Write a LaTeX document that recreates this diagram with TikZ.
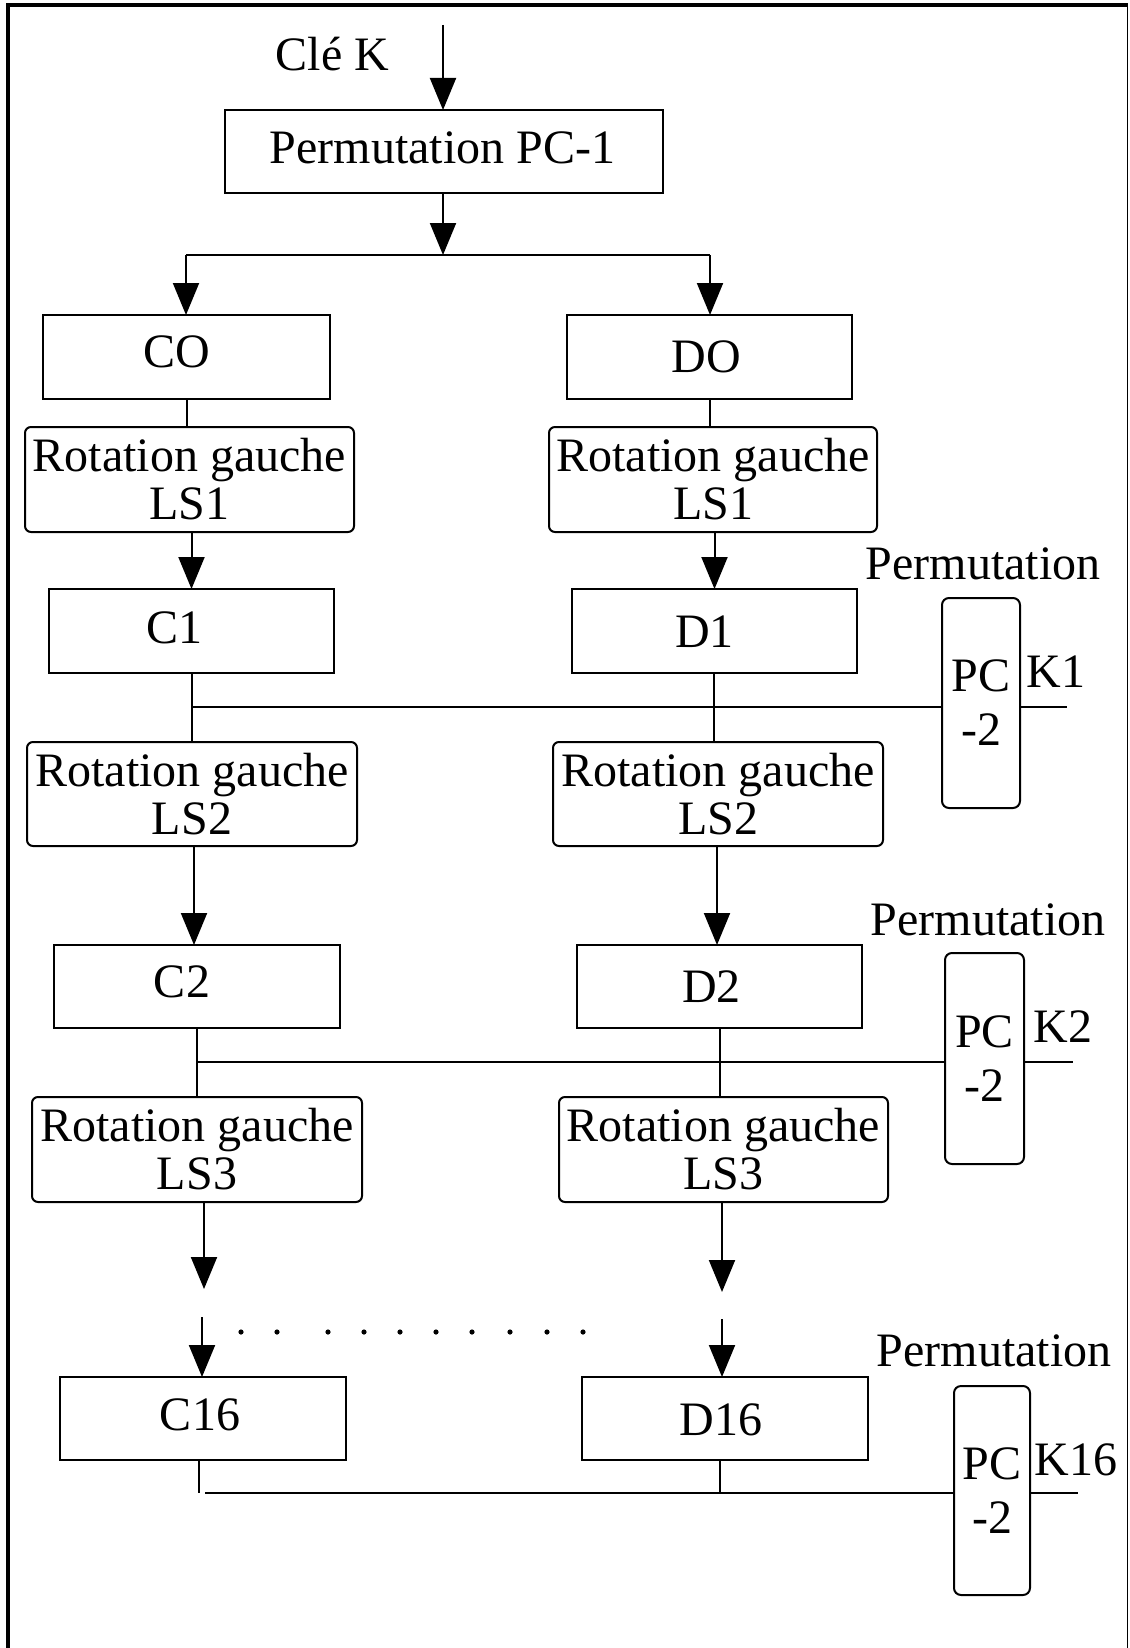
\documentclass[tikz,border=0pt]{standalone}
\usepackage{fontspec}
\setmainfont{Liberation Serif}
\usetikzlibrary{arrows.meta}
\begin{document}
\begin{tikzpicture}[x=1pt,y=-1pt,
  every node/.style={font=\fontsize{48}{48}\selectfont, inner sep=0pt, outer sep=0pt},
  sqbox/.style={draw, line width=2pt},
  rbox/.style={draw, line width=2pt, rounded corners=6pt, align=center},
  kbox/.style={draw, line width=2pt, rounded corners=7pt, align=center, font=\fontsize{48}{54}\selectfont, minimum width=78pt, minimum height=210pt},
  conn/.style={line width=2pt},
  arr/.style={line width=2pt, -{Triangle[length=32pt,width=26pt]}},
  lbl/.style={}]
\useasboundingbox (0,0) rectangle (1129,1648);
% frame
\draw[line width=4pt] (8,1648) -- (8,5.5) -- (1128,5.5);
\draw[line width=1.5pt] (1127.5,5.5) -- (1127.5,1648);

% top
\node[lbl] (cle) at (332.5,54) {Clé K};
\node[sqbox, minimum width=438pt, minimum height=83pt] (pc1) at (443.5,151.5) {};
\node[lbl] (pc1t) at ([shift={(-1,-3.5)}]pc1.center) {Permutation PC-1};
\coordinate (kin) at (443,25);
\coordinate (split) at (443,255);
\coordinate (splitL) at (186,255);
\coordinate (splitR) at (710,255);

% row 0
\node[sqbox, minimum width=287pt, minimum height=84pt] (c0) at (186.5,357) {};
\node[lbl] (c0t) at ([shift={(-10,-5)}]c0.center) {CO};
\node[sqbox, minimum width=285pt, minimum height=84pt] (d0) at (709.5,357) {};
\node[lbl] (d0t) at ([shift={(-3.5,0)}]d0.center) {DO};
% row 1
\node[rbox, minimum width=329pt, minimum height=105pt] (rl1) at (189.5,479.5) {Rotation gauche\\LS1};
\node[rbox, minimum width=328pt, minimum height=105pt] (rr1) at (713,479.5) {Rotation gauche\\LS1};
\node[sqbox, minimum width=285pt, minimum height=84pt] (c1) at (191.5,631) {};
\node[lbl] (c1t) at ([shift={(-17,-3.5)}]c1.center) {C1};
\node[sqbox, minimum width=285pt, minimum height=84pt] (d1) at (714.5,631) {};
\node[lbl] (d1t) at ([shift={(-10,1)}]d1.center) {D1};
\node[lbl] (perm1) at (983,564) {Permutation};
\node[kbox] (pk1) at (981,703) {PC\\-2};
\node[lbl] (k1) at (1056,672) {K1};
% row 2
\node[rbox, minimum width=330pt, minimum height=104pt] (rl2) at (192,794) {Rotation gauche\\LS2};
\node[rbox, minimum width=330pt, minimum height=104pt] (rr2) at (718,794) {Rotation gauche\\LS2};
\node[sqbox, minimum width=286pt, minimum height=83pt] (c2) at (197,986.5) {};
\node[lbl] (c2t) at ([shift={(-15,-4.5)}]c2.center) {C2};
\node[sqbox, minimum width=285pt, minimum height=83pt] (d2) at (719.5,986.5) {};
\node[lbl] (d2t) at ([shift={(-8,0)}]d2.center) {D2};
\node[lbl] (perm2) at (988,920) {Permutation};
\node[kbox, minimum width=79pt, minimum height=211pt] (pk2) at (984.5,1058.5) {PC\\-2};
\node[lbl] (k2) at (1063,1027) {K2};
% row 3
\node[rbox, minimum width=330pt, minimum height=105pt] (rl3) at (197,1149.5) {Rotation gauche\\LS3};
\node[rbox, minimum width=329pt, minimum height=105pt] (rr3) at (723.5,1149.5) {Rotation gauche\\LS3};
% row 16
\node[sqbox, minimum width=286pt, minimum height=83pt] (c16) at (203,1418.5) {};
\node[lbl] (c16t) at ([shift={(-3,-3.5)}]c16.center) {C16};
\node[sqbox, minimum width=286pt, minimum height=83pt] (d16) at (725,1418.5) {};
\node[lbl] (d16t) at ([shift={(-4,1.5)}]d16.center) {D16};
\node[lbl] (perm3) at (994,1351) {Permutation};
\node[kbox, minimum width=76pt, minimum height=209pt] (pk3) at (992,1490.5) {PC\\-2};
\node[lbl] (k16) at (1076,1460) {K16};

% connectors top
\draw[arr] (kin) -- (kin |- pc1.north);
\draw[arr] (pc1.south -| split) -- (split);
\draw[conn] (splitL) -- (splitR);
\draw[arr] (splitL) -- (splitL |- c0.north);
\draw[arr] (splitR) -- (splitR |- d0.north);

% column C
\draw[conn] (c0.south) -- (c0.south |- rl1.north);
\draw[arr] (c1.north |- rl1.south) -- (c1.north);
\coordinate (c1x) at (192,707);
\draw[conn] (c1x |- c1.south) -- (c1x |- rl2.north);
\coordinate (c2a) at (194,0);
\draw[arr] (c2a |- rl2.south) -- (c2a |- c2.north);
\coordinate (c2x) at (197,1062);
\draw[conn] (c2x |- c2.south) -- (c2x |- rl3.north);
\coordinate (c3a) at (204,1289);
\draw[arr] (c3a |- rl3.south) -- (c3a);
\coordinate (c16a) at (202,1317);
\draw[arr] (c16a) -- (c16a |- c16.north);
\coordinate (c16x) at (199,1493);
\draw[conn] (c16x |- c16.south) -- (c16x);

% column D
\draw[conn] (d0.south) -- (d0.south |- rr1.north);
\draw[arr] (d1.north |- rr1.south) -- (d1.north);
\coordinate (d1x) at (714,707);
\draw[conn] (d1x |- d1.south) -- (d1x |- rr2.north);
\coordinate (d2a) at (717,0);
\draw[arr] (d2a |- rr2.south) -- (d2a |- d2.north);
\coordinate (d2x) at (720,1062);
\draw[conn] (d2x |- d2.south) -- (d2x |- rr3.north);
\coordinate (d3a) at (722,1292);
\draw[arr] (d3a |- rr3.south) -- (d3a);
\coordinate (d16a) at (722,1319);
\draw[arr] (d16a) -- (d16a |- d16.north);
\coordinate (d16x) at (720,1493);
\draw[conn] (d16x |- d16.south) -- (d16x);

% key lines
\draw[conn] (c1x) -- (c1x -| pk1.west);
\coordinate (k1e) at (1067,707);
\draw[conn] (pk1.east |- k1e) -- (k1e);
\draw[conn] (c2x) -- (c2x -| pk2.west);
\coordinate (k2e) at (1073,1062);
\draw[conn] (pk2.east |- k2e) -- (k2e);
\coordinate (c16h) at (205,1493);
\draw[conn] (c16h) -- (c16h -| pk3.west);
\coordinate (k3e) at (1078,1493);
\draw[conn] (pk3.east |- k3e) -- (k3e);

% dots
\foreach \dx in {241,277,328,364,400,436,472,510,547,583}
  \fill (\dx,1332) circle (2.6pt);
\end{tikzpicture}
\end{document}
